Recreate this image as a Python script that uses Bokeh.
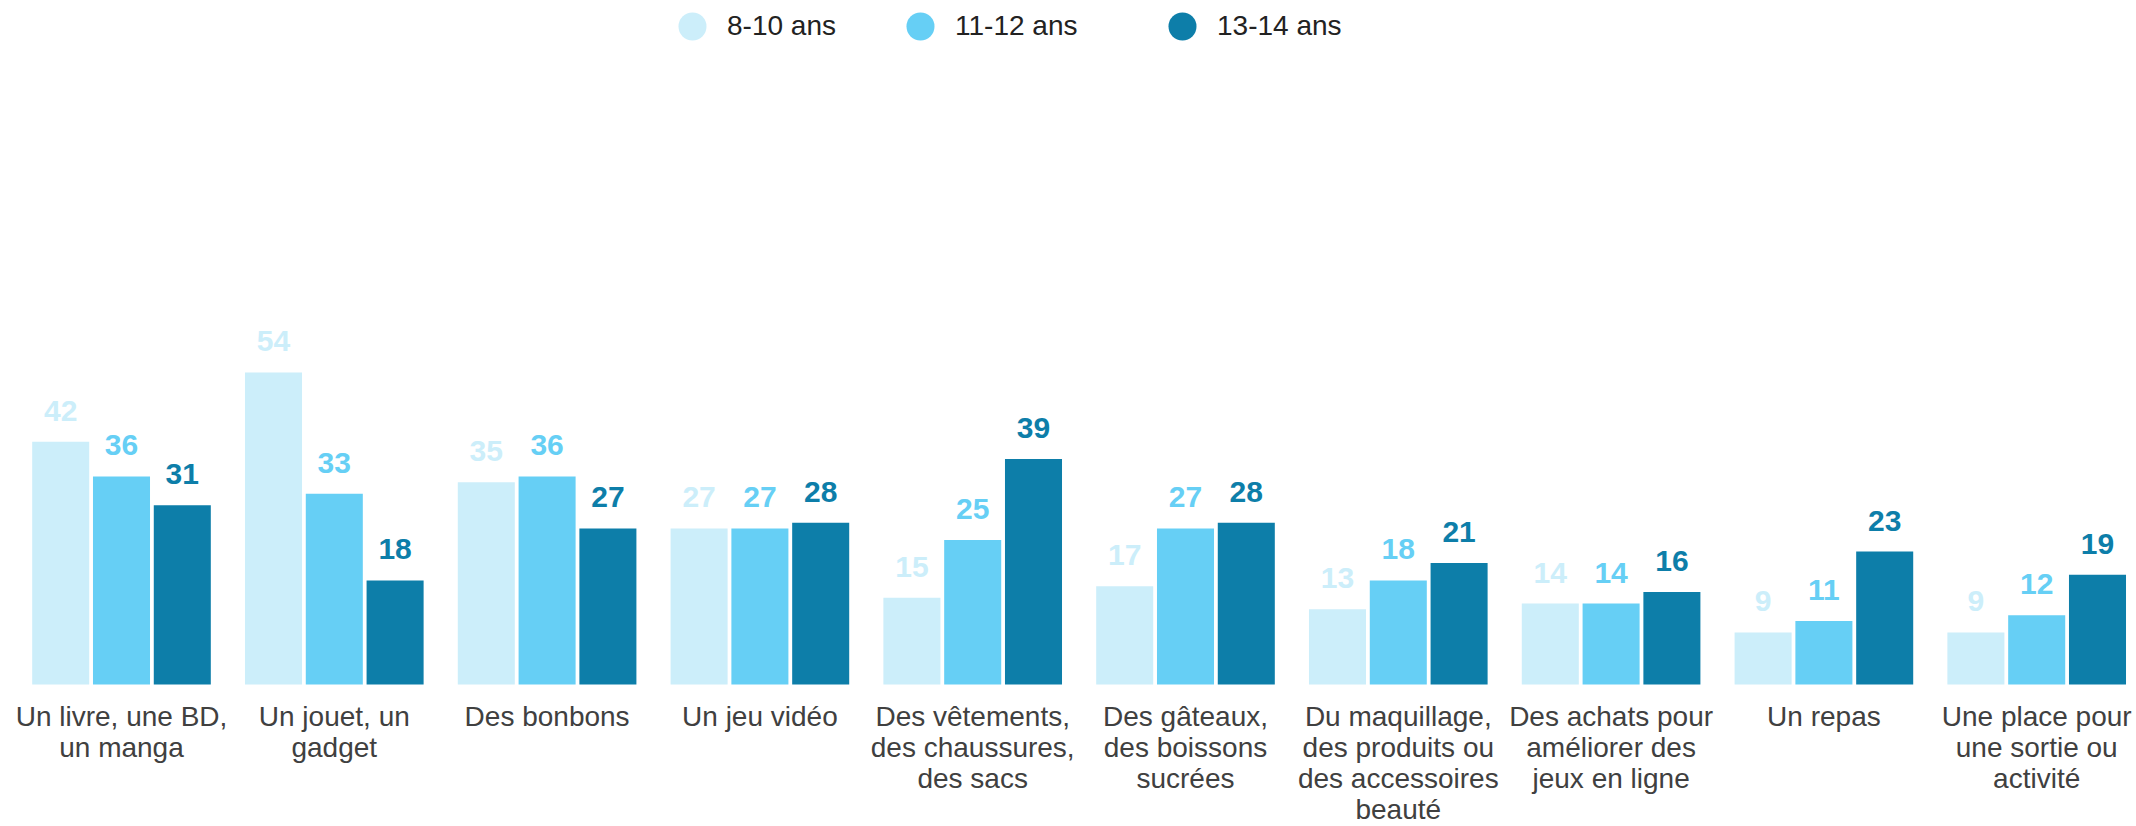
from bokeh.plotting import figure
from bokeh.models import ColumnDataSource, Range1d, Legend, LegendItem
from bokeh.core.properties import value
from bokeh.transform import dodge
from bokeh.embed import file_html
from bokeh.resources import INLINE

categories = [
    "Un livre, une BD,\nun manga",
    "Un jouet, un\ngadget",
    "Des bonbons",
    "Un jeu vidéo",
    "Des vêtements,\ndes chaussures,\ndes sacs",
    "Des gâteaux,\ndes boissons\nsucrées",
    "Du maquillage,\ndes produits ou\ndes accessoires\nbeauté",
    "Des achats pour\naméliorer des\njeux en ligne",
    "Un repas",
    "Une place pour\nune sortie ou\nactivité",
]
series = ["8-10 ans", "11-12 ans", "13-14 ans"]
v_8_10 = [42, 54, 35, 27, 15, 17, 13, 14, 9, 9]
v_11_12 = [36, 33, 36, 27, 25, 27, 18, 14, 11, 12]
v_13_14 = [31, 18, 27, 28, 39, 28, 21, 16, 23, 19]
colors = ["#CCEEFA", "#66CFF5", "#0D7EA9"]

FONT = "Liberation Sans"
W, H = 2136, 826
xs = list(range(len(categories)))

src = ColumnDataSource(dict(
    x=xs, cat=categories,
    s0=v_8_10, s1=v_11_12, s2=v_13_14,
    l0=[str(v) for v in v_8_10], l1=[str(v) for v in v_11_12], l2=[str(v) for v in v_13_14],
))

p = figure(width=W, height=H, output_backend="svg", toolbar_location=None,
           x_range=Range1d(-0.5686, 9.469), y_range=Range1d(-24.57, 118.34),
           min_border=0, min_border_left=0, min_border_right=0,
           min_border_top=0, min_border_bottom=0)
p.xaxis.visible = False
p.yaxis.visible = False
p.grid.visible = False
p.outline_line_color = None
p.background_fill_color = "white"
p.border_fill_color = "white"

offsets = [-0.2857, 0.0, 0.2857]
bar_w = 0.268
cols = ["s0", "s1", "s2"]
labs = ["l0", "l1", "l2"]
for i in range(3):
    p.vbar(x=dodge("x", offsets[i], range=p.x_range), top=cols[i], bottom=0, width=bar_w,
           source=src, fill_color=colors[i], line_color=None)
    p.text(x=dodge("x", offsets[i], range=p.x_range), y=cols[i], text=labs[i], source=src,
           text_color=colors[i], text_font=value(FONT), text_font_style="bold",
           text_font_size="30px", text_align="center", text_baseline="alphabetic",
           y_offset=-31)

p.text(x="x", y=0, text="cat", source=src, text_color="#404040",
       text_font=value(FONT), text_font_size="28px", text_align="center",
       text_baseline="top", y_offset=17, text_line_height=1.0)

# legend: hidden scatter renderers provide the legend glyphs
centers = [692, 920, 1182]
for i, name in enumerate(series):
    lr = p.scatter(x=dodge("x", offsets[i], range=p.x_range), y=cols[i], source=src,
                   marker="circle", size=28, fill_color=colors[i], line_color=None,
                   visible=False)
    leg = Legend(items=[LegendItem(label=name, renderers=[lr])],
                 location=(centers[i] - 35, H - 26 - 35),
                 glyph_width=70, glyph_height=70, label_standoff=0,
                 padding=0, margin=0, spacing=0,
                 border_line_color=None, background_fill_alpha=0,
                 label_text_font=FONT, label_text_font_size="28px",
                 label_text_color="#222222", label_text_baseline="middle")
    p.add_layout(leg)

open("out.html", "w").write(file_html(p, INLINE))
